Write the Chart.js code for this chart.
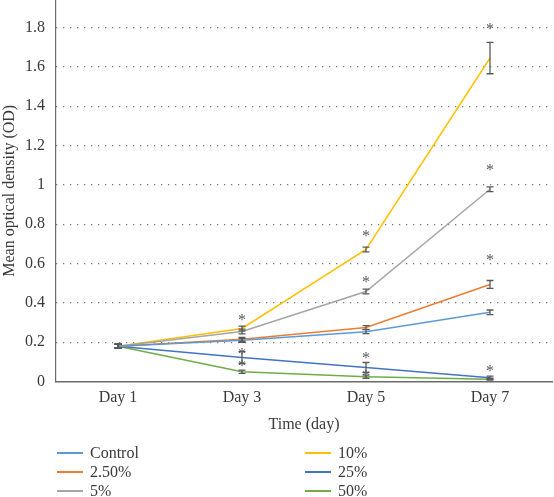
<!DOCTYPE html>
<html>
<head>
<meta charset="utf-8">
<script src="https://cdn.jsdelivr.net/npm/chart.js@4"></script>
<style>
  html, body { margin: 0; padding: 0; background: #fff; }
  #wrap { position: relative; width: 554px; height: 497px; overflow: hidden; }
  #legend { position: absolute; left: 57px; top: 443px; display: grid;
    grid-template-columns: 248px 200px; grid-auto-flow: column; grid-template-rows: repeat(3, 19px);
    font-family: "Liberation Serif", "DejaVu Serif", serif; font-size: 16px; color: #3a3a3a; }
  .item { display: flex; align-items: center; height: 19px; }
  .swatch { width: 26px; height: 2px; margin-right: 7px; }
</style>
</head>
<body>
<div id="wrap">
  <canvas id="myChart" width="554" height="497"></canvas>
  <div id="legend"></div>
</div>
<script>
// categories
var days = ["Day 1", "Day 3", "Day 5", "Day 7"];

// series names and colours
var names = ["Control", "2.50%", "5%", "10%", "25%", "50%"];
var colors = ["#5B9BD5", "#ED7D31", "#A5A5A5", "#FFC000", "#4472C4", "#70AD47"];

// mean OD values
var control = [0.18, 0.21, 0.254, 0.352];
var p2_5 = [0.18, 0.215, 0.275, 0.494];
var p5 = [0.18, 0.255, 0.458, 0.978];
var p10 = [0.18, 0.27, 0.672, 1.645];
var p25 = [0.18, 0.122, 0.072, 0.02];
var p50 = [0.18, 0.05, 0.025, 0.012];

// error bar half-widths
var errControl = [0.01, 0.01, 0.01, 0.012];
var errP2_5 = [0.01, 0.01, 0.01, 0.02];
var errP5 = [0.01, 0.012, 0.012, 0.012];
var errP10 = [0.01, 0.012, 0.012, 0.08];
var errP25 = [0.01, 0.03, 0.025, 0.008];
var errP50 = [0.01, 0.008, 0.008, 0.005];

// where the significance asterisks sit (OD value), null = none
var starP10 = [null, 0.326, 0.758, 1.81];
var starP5 = [null, null, 0.524, 1.089];
var starP2_5 = [null, null, null, 0.631];
var starP25 = [null, 0.158, 0.137, 0.071];
var starP50 = [null, 0.097, 0.046, null];

// y tick labels
var yTicks = [0, 0.2, 0.4, 0.6, 0.8, 1, 1.2, 1.4, 1.6, 1.8];

var values = [control, p2_5, p5, p10, p25, p50];
var errors = [errControl, errP2_5, errP5, errP10, errP25, errP50];
var stars = [[null, null, null, null], starP2_5, starP5, starP10, starP25, starP50];

var serif = "'Liberation Serif', 'DejaVu Serif', serif";

var errorBars = {
  id: "errorBars",
  afterDatasetsDraw: function (chart) {
    var ctx = chart.ctx;
    var ys = chart.scales.y;
    ctx.save();
    ctx.strokeStyle = "#595959";
    ctx.lineWidth = 1.3;
    chart.data.datasets.forEach(function (ds, i) {
      var meta = chart.getDatasetMeta(i);
      meta.data.forEach(function (pt, j) {
        var v = ds.data[j], e = errors[i][j];
        var top = ys.getPixelForValue(v + e);
        var bot = ys.getPixelForValue(v - e);
        ctx.beginPath();
        ctx.moveTo(pt.x, top); ctx.lineTo(pt.x, bot);
        ctx.moveTo(pt.x - 3.5, top); ctx.lineTo(pt.x + 3.5, top);
        ctx.moveTo(pt.x - 3.5, bot); ctx.lineTo(pt.x + 3.5, bot);
        ctx.stroke();
      });
    });
    ctx.fillStyle = "#595959";
    ctx.font = "16px " + serif;
    ctx.textAlign = "center";
    ctx.textBaseline = "alphabetic";
    chart.data.datasets.forEach(function (ds, i) {
      var meta = chart.getDatasetMeta(i);
      meta.data.forEach(function (pt, j) {
        var s = stars[i][j];
        if (s === null) return;
        ctx.fillText("*", pt.x, ys.getPixelForValue(s) + 8);
      });
    });
    ctx.restore();
  }
};

var ctx = document.getElementById("myChart").getContext("2d");
var myChart = new Chart(ctx, {
  type: "line",
  data: {
    labels: days,
    datasets: names.map(function (n, i) {
      return {
        label: n,
        data: values[i],
        borderColor: colors[i],
        backgroundColor: colors[i],
        borderWidth: 1.5,
        pointRadius: 0,
        tension: 0
      };
    })
  },
  options: {
    responsive: false,
    animation: false,
    layout: { padding: { top: 0, right: 2, bottom: 63, left: 0 } },
    plugins: { legend: { display: false }, tooltip: { enabled: false } },
    scales: {
      x: {
        offset: true,
        grid: { display: false, drawTicks: false },
        border: { color: "#6b6b6b", width: 1.5 },
        ticks: { color: "#3a3a3a", font: { family: serif, size: 16 }, padding: 7 },
        title: { display: true, text: "Time (day)", color: "#3a3a3a", font: { family: serif, size: 16 }, padding: { top: 0, bottom: 0 } }
      },
      y: {
        min: 0,
        max: 1.94,
        afterBuildTicks: function (axis) {
          axis.ticks = yTicks.map(function (v) { return { value: v }; });
        },
        afterFit: function (axis) {
          axis.width = 56;
          axis.paddingTop = 0;
          axis.paddingBottom = 0;
        },
        grid: {
          drawTicks: false,
          color: function (c) { return c.tick && c.tick.value === 0 ? "rgba(0,0,0,0)" : "#555"; },
          lineWidth: 1.2
        },
        border: { color: "#6b6b6b", width: 1.2, dash: [1, 6] },
        ticks: {
          color: "#3a3a3a", font: { family: serif, size: 16 }, padding: 11,
          callback: function (v) { return String(Math.round(v * 10) / 10); }
        },
        title: { display: true, text: "Mean optical density (OD)", color: "#3a3a3a", font: { family: serif, size: 16 }, padding: 0 }
      }
    }
  },
  plugins: [errorBars]
});

// legend, filled column by column from the chart's datasets
var leg = document.getElementById("legend");
myChart.data.datasets.forEach(function (ds) {
  var item = document.createElement("div");
  item.className = "item";
  var sw = document.createElement("span");
  sw.className = "swatch";
  sw.style.background = ds.borderColor;
  var t = document.createElement("span");
  t.textContent = ds.label;
  item.appendChild(sw);
  item.appendChild(t);
  leg.appendChild(item);
});
</script>
</body>
</html>
